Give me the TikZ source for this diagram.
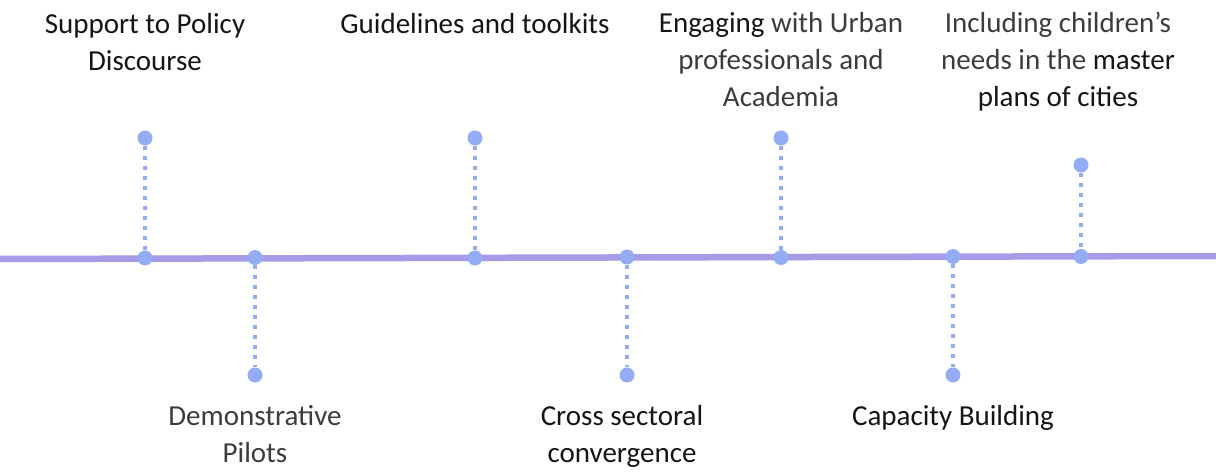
\documentclass[tikz,border=0pt]{standalone}
\usepackage{fontspec}
\setmainfont{Carlito}
\definecolor{linecol}{HTML}{A79AE6}
\definecolor{dotcol}{HTML}{93ACF4}
\definecolor{darktxt}{HTML}{151515}
\definecolor{greytxt}{HTML}{3C3C3C}
\begin{document}
\begin{tikzpicture}[x=1pt,y=-1pt,
  dotnode/.style={circle,fill=dotcol,inner sep=0pt,minimum size=15pt},
  stem/.style={dotcol,line width=4pt,dash pattern=on 4pt off 6pt},
  lbl/.style={align=center,font=\fontsize{29}{37}\selectfont,text=greytxt,inner sep=0pt}]
\useasboundingbox (0,0) rectangle (1216,473);
\coordinate (L) at (0,259);
\coordinate (R) at (1216,256);
\draw[linecol,line width=6.5pt] (L) -- (R);
% top items
\node[dotnode] (t1) at (145,138) {};
\node[dotnode] (b1) at (145,258) {};
\node[dotnode] (t2) at (475,138) {};
\node[dotnode] (b2) at (475,258) {};
\node[dotnode] (t3) at (781,138) {};
\node[dotnode] (b3) at (781,257.5) {};
\node[dotnode] (t4) at (1081,165) {};
\node[dotnode] (b4) at (1081,256.5) {};
% bottom items
\node[dotnode] (u1) at (255,257.5) {};
\node[dotnode] (d1) at (255,375) {};
\node[dotnode] (u2) at (627,257) {};
\node[dotnode] (d2) at (627,375) {};
\node[dotnode] (u3) at (953,256.5) {};
\node[dotnode] (d3) at (953,375) {};
\draw[stem] (t1) -- (b1);
\draw[stem] (t2) -- (b2);
\draw[stem] (t3) -- (b3);
\draw[stem] (t4) -- (b4);
\draw[stem] (u1) -- (d1);
\draw[stem] (u2) -- (d2);
\draw[stem] (u3) -- (d3);
% labels (anchor=base is the baseline of the last line)
\node[lbl,anchor=base] (l1) at (145,71) {\color{darktxt}Support to Policy\\\color{darktxt}Discourse};
\node[lbl,anchor=base] (l2) at (475,34) {\color{darktxt}Guidelines and toolkits};
\node[lbl,anchor=base] (l3) at (781,107) {{\color{darktxt}Engaging} with Urban\\professionals and\\Academia};
\node[lbl,anchor=base] (l4) at (1058,107) {Including children’s\\needs in the {\color{darktxt}master}\\\color{darktxt}plans of cities};
\node[lbl,anchor=base] (l5) at (255,462) {Demonstrative\\Pilots};
\node[lbl,anchor=base] (l6) at (622,462) {\color{darktxt}Cross sectoral\\\color{darktxt}convergence};
\node[lbl,anchor=base] (l7) at (953,425) {\color{darktxt}Capacity Building};
\end{tikzpicture}
\end{document}
